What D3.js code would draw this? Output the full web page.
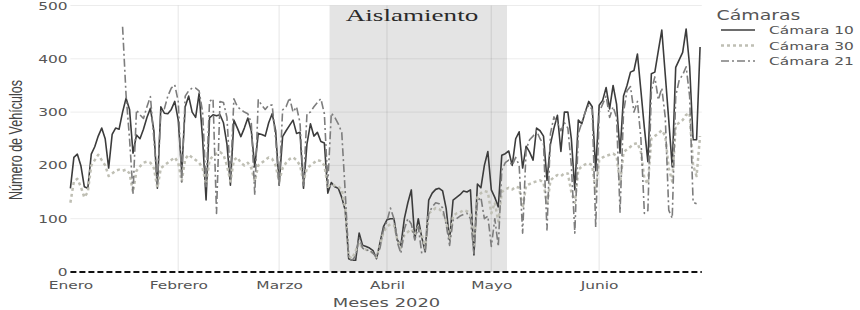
<!DOCTYPE html>
<html><head><meta charset="utf-8">
<script src="https://cdn.jsdelivr.net/npm/d3@7"></script>
<style>html,body{margin:0;padding:0;background:#fff;}svg{display:block;}</style>
</head><body>
<svg id="chart" width="860" height="310"></svg>
<script>
// ---- data ----
const startDate = new Date(2020, 0, 1);
const monthTicks = [new Date(2020,0,1), new Date(2020,1,1), new Date(2020,2,1), new Date(2020,3,1), new Date(2020,4,1), new Date(2020,5,1)];
const monthLabels = ["Enero", "Febrero", "Marzo", "Abril", "Mayo", "Junio"];
const yTicks = [0, 100, 200, 300, 400, 500];
const seriesNames = ["Cámara 10", "Cámara 30", "Cámara 21"];
const shadeStart = new Date(2020, 2, 15, 12);
const shadeEnd = new Date(2020, 4, 5, 12);
const shadeLabel = "Aislamiento";
const xTitle = "Meses 2020";
const yTitle = "Número de Vehículos";
const legendTitle = "Cámaras";

const cam10 = [157,215,221,200,160,157,221,235,255,270,250,195,258,270,268,300,326,305,223,257,
250,268,290,307,265,157,310,298,297,305,320,285,188,310,330,300,290,335,250,135,
289,295,293,295,280,240,163,285,270,254,270,289,265,197,260,258,255,280,297,265,
163,254,265,275,285,260,262,157,240,278,255,262,245,242,148,168,160,157,140,116,
25,22,22,73,50,48,45,40,25,55,85,98,100,100,60,50,100,130,154,62,
100,65,38,135,148,155,157,152,120,60,135,140,145,152,150,154,32,165,158,200,
226,154,140,122,219,222,227,200,250,263,195,236,225,210,270,265,255,172,240,270,
294,226,300,300,250,154,285,278,300,320,310,190,313,322,346,306,350,315,223,330,
350,375,378,409,340,270,207,372,375,415,454,370,285,197,384,398,412,456,386,248,
248,422];

const cam30 = [130,170,175,160,140,150,200,210,220,210,200,180,185,190,192,190,192,185,150,190,
198,205,207,205,195,158,195,200,205,210,215,205,170,212,220,215,210,205,195,165,
210,218,222,225,220,200,170,210,215,205,200,205,195,170,200,205,210,215,212,200,
170,195,205,212,215,210,200,170,195,200,205,210,208,200,160,165,162,160,155,120,
30,25,40,55,45,42,40,35,28,50,75,85,90,88,60,45,70,75,80,70,
85,70,45,110,115,120,118,112,95,60,105,110,112,116,114,110,50,140,148,152,
150,110,130,95,150,155,158,155,160,158,120,162,165,168,170,172,168,125,172,178,
182,180,185,185,150,130,192,198,202,204,200,150,210,215,218,220,222,218,165,225,
230,235,240,242,225,175,165,250,255,260,266,255,195,170,275,280,285,295,298,200,
180,255];

const cam21 = [null,null,null,null,null,null,null,null,null,null,null,null,null,null,null,460,332,250,148,304,
295,288,310,329,250,165,300,306,330,345,351,320,169,330,340,345,345,340,300,160,
320,325,110,320,318,290,176,325,310,305,300,297,280,144,323,313,305,313,313,250,
160,304,310,327,300,310,280,160,297,300,310,318,325,297,165,298,290,278,262,150,
25,22,30,65,45,40,42,35,28,45,80,95,120,100,55,35,80,100,90,60,
85,35,40,110,122,130,128,120,90,50,97,100,105,108,110,100,35,133,140,100,
105,48,100,48,191,205,210,200,215,200,73,230,248,255,265,250,240,79,260,291,
280,265,280,270,200,73,260,280,300,313,305,84,300,315,330,290,310,290,112,300,
340,348,300,320,250,110,115,340,366,323,345,290,116,101,330,360,370,385,330,131,
128,null];

const seriesValues = [cam10, cam30, cam21];
const seriesColors = ["#3c3c3c", "#bfbfb4", "#7d7d7d"];
const seriesWidths = [1.6, 2.5, 1.6];
const seriesDash = [null, "3,3", "8,3,2,3"];

// ---- layout ----
const SX = 1.4; // horizontal text stretch of the original picture
const svg = d3.select("#chart");
const x = d3.scaleTime()
  .domain([new Date(2020,0,1), new Date(2020,5,30,12)])
  .range([70.4, 701.8]);
const y = d3.scaleLinear().domain([0, 500]).range([272, 5.5]);
const dayDate = i => d3.timeDay.offset(startDate, i);

// shading
svg.append("rect")
  .attr("x", x(shadeStart)).attr("y", y(500))
  .attr("width", x(shadeEnd) - x(shadeStart)).attr("height", y(0) - y(500))
  .attr("fill", "#e4e4e4");

// grid
const grid = svg.append("g");
grid.selectAll("line.h").data(yTicks.filter(d => d > 0)).join("line")
  .attr("x1", x.range()[0]).attr("x2", x.range()[1])
  .attr("y1", d => y(d)).attr("y2", d => y(d))
  .attr("stroke", "rgba(0,0,0,0.075)").attr("stroke-width", 1);
grid.selectAll("line.v").data(monthTicks.slice(1)).join("line")
  .attr("x1", d => x(d)).attr("x2", d => x(d))
  .attr("y1", y(500)).attr("y2", y(0))
  .attr("stroke", "rgba(0,0,0,0.075)").attr("stroke-width", 1.4);

// shade label
svg.append("text")
  .attr("transform", `translate(412,21) scale(1.55,1)`)
  .attr("text-anchor", "middle")
  .attr("font-family", "'Liberation Serif','Times New Roman',serif")
  .attr("font-size", 17.5).attr("fill", "#2a2a2a")
  .text(shadeLabel);

// lines
const line = d3.line()
  .defined(d => d.v != null)
  .x(d => x(d.date)).y(d => y(d.v));
seriesValues.forEach((vals, k) => {
  const pts = vals.map((v, i) => ({date: dayDate(i), v}));
  svg.append("path").datum(pts)
    .attr("d", line)
    .attr("fill", "none")
    .attr("stroke", seriesColors[k])
    .attr("stroke-width", seriesWidths[k])
    .attr("stroke-dasharray", seriesDash[k])
    .attr("stroke-linejoin", "round");
});

// zero dashed line
svg.append("line")
  .attr("x1", x.range()[0]).attr("x2", x.range()[1])
  .attr("y1", y(0)).attr("y2", y(0))
  .attr("stroke", "#111").attr("stroke-width", 2)
  .attr("stroke-dasharray", "6,3");

// axes
const tickFont = "'DejaVu Sans', Verdana, sans-serif";
const xAxis = svg.append("g").attr("transform", `translate(0,${y(0)})`)
  .call(d3.axisBottom(x).tickValues(monthTicks).tickSize(0)
    .tickFormat((d, i) => monthLabels[i]));
xAxis.select(".domain").remove();
xAxis.selectAll("text")
  .attr("dy", null).attr("y", 0)
  .attr("transform", `translate(0,17) scale(${SX},1)`)
  .attr("font-family", tickFont).attr("font-size", 11).attr("fill", "#555");

const yAxis = svg.append("g").attr("transform", `translate(${x.range()[0]},0)`)
  .call(d3.axisLeft(y).tickValues(yTicks).tickSize(0).tickPadding(2));
yAxis.select(".domain").remove();
yAxis.selectAll("text")
  .attr("transform", `scale(${SX},1)`)
  .attr("font-family", tickFont).attr("font-size", 11).attr("fill", "#555");

// axis titles
svg.append("text")
  .attr("transform", `translate(386.5,306.5) scale(${SX},1)`)
  .attr("text-anchor", "middle")
  .attr("font-family", tickFont).attr("font-size", 12.8).attr("fill", "#555")
  .text(xTitle);
svg.append("text")
  .attr("transform", `translate(22,140) scale(${SX},1) rotate(-90)`)
  .attr("text-anchor", "middle")
  .attr("font-family", "'Liberation Sans Narrow','Liberation Sans',Arial,sans-serif")
  .attr("font-size", 13).attr("fill", "#444")
  .attr("textLength", 120).attr("lengthAdjust", "spacingAndGlyphs")
  .text(yTitle);

// legend
const lg = svg.append("g");
lg.append("text")
  .attr("transform", `translate(716.5,20) scale(${SX},1)`)
  .attr("font-family", tickFont).attr("font-size", 13.5).attr("fill", "#555")
  .text(legendTitle);
seriesNames.forEach((name, k) => {
  const yy = 30 + k * 15.5;
  lg.append("line")
    .attr("x1", 721).attr("x2", 755).attr("y1", yy).attr("y2", yy)
    .attr("stroke", seriesColors[k]).attr("stroke-width", seriesWidths[k])
    .attr("stroke-dasharray", seriesDash[k]);
  lg.append("text")
    .attr("transform", `translate(769,${yy + 4}) scale(${SX},1)`)
    .attr("font-family", tickFont).attr("font-size", 11).attr("fill", "#555")
    .text(name);
});
</script>
</body></html>
